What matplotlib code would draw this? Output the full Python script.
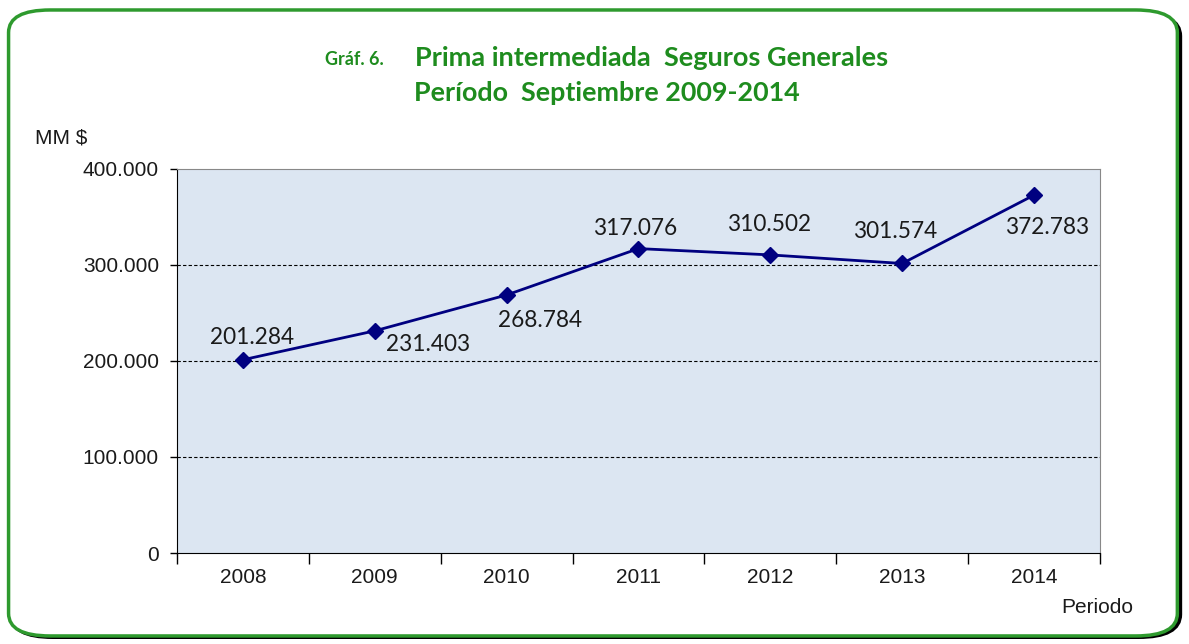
import matplotlib
matplotlib.use('Agg')
from matplotlib import pyplot as plt
from matplotlib.patches import FancyBboxPatch
import numpy as np

years = ['2008', '2009', '2010', '2011', '2012', '2013', '2014']
primas = [201284, 231403, 268784, 317076, 310502, 301574, 372783]
etiquetas = ['201.284', '231.403', '268.784', '317.076', '310.502', '301.574', '372.783']
# label offsets in pixels (dx, dy)
offsets = [(9, 22), (53, -14), (33, -26), (-3, 20), (-1, 30), (-7, 32), (13, -32)]

green = '#1E8C1E'
navy = '#000080'

fig = plt.figure(figsize=(11.89, 6.44), dpi=100)

# shadow + rounded green frame
shadow = FancyBboxPatch((0.0095, 0.0110), 0.983, 0.968, boxstyle='round,pad=0,rounding_size=0.035',
                        transform=fig.transFigure, facecolor='none', edgecolor='black', lw=3, zorder=0)
frame = FancyBboxPatch((0.0072, 0.0125), 0.983, 0.972, boxstyle='round,pad=0,rounding_size=0.035',
                       transform=fig.transFigure, facecolor='white', edgecolor='#2E9A2E', lw=2.5, zorder=1)
fig.patches.extend([shadow, frame])

ax = fig.add_axes([0.1489, 0.1413, 0.7762, 0.5963])
ax.set_zorder(5)
ax.set_facecolor('#DCE6F2')
x = np.arange(len(years))
ax.plot(x, primas, color=navy, lw=2, marker='D', markersize=8, zorder=3)

for xi, yi, lab, (dx, dy) in zip(x, primas, etiquetas, offsets):
    ax.annotate(lab, (xi, yi), xytext=(dx, dy), textcoords='offset pixels',
                ha='center', va='center', fontsize=16.3, family='Lato', color='#1a1a1a')

ax.set_xlim(-0.5, 6.5)
ax.set_ylim(0, 400000)
ax.set_yticks([0, 100000, 200000, 300000, 400000])
ax.set_yticklabels(['0', '100.000', '200.000', '300.000', '400.000'])
for yg in [100000, 200000, 300000]:
    ax.axhline(yg, color='black', lw=0.8, ls=(0, (3, 2)), zorder=1)

ax.set_xticks(np.arange(-0.5, 7, 1))
ax.set_xticklabels([])
ax.set_xticks(x, minor=True)
ax.set_xticklabels(years, minor=True)
ax.tick_params(axis='x', which='major', direction='out', length=8, width=1, color='black')
ax.tick_params(axis='x', which='minor', length=0, pad=11, labelsize=15)
ax.tick_params(axis='y', direction='out', length=5, width=1, labelsize=15, pad=8)
for lab in ax.get_xticklabels(minor=True) + ax.get_yticklabels():
    lab.set_family('Liberation Sans')
    lab.set_color('#1a1a1a')

ax.spines['left'].set_color('black')
ax.spines['bottom'].set_color('black')
ax.spines['top'].set_color('#888888')
ax.spines['right'].set_color('#888888')

fig.text(0.0294, 0.786, 'MM $', fontsize=15, family='Liberation Sans', color='#1a1a1a',
         va='center', zorder=5)
fig.text(0.953, 0.057, 'Periodo', fontsize=15, family='Liberation Sans', color='#1a1a1a',
         va='center', ha='right', zorder=5)

fig.text(0.273, 0.907, 'Gráf. 6.', fontsize=13, family='Lato', weight='bold', color=green,
         va='center', zorder=5)
fig.text(0.548, 0.910, 'Prima intermediada  Seguros Generales', fontsize=19.5, family='Lato',
         weight='bold', color=green, va='center', ha='center', zorder=5)
fig.text(0.510, 0.855, 'Período  Septiembre 2009-2014', fontsize=19.4, family='Lato',
         weight='bold', color=green, va='center', ha='center', zorder=5)

fig.savefig('out.png', dpi=100)
